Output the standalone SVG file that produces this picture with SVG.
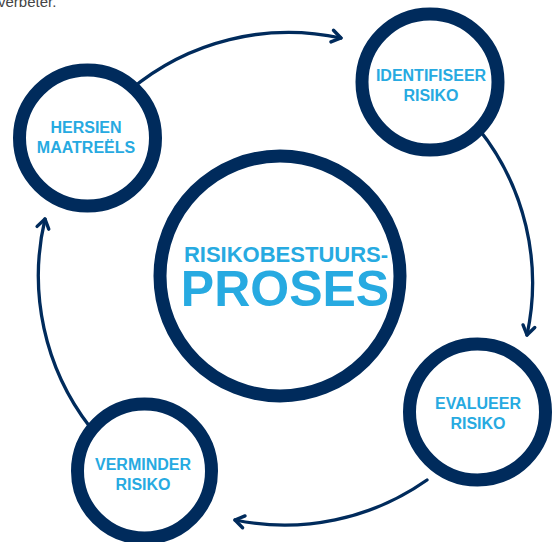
<svg xmlns="http://www.w3.org/2000/svg" width="558" height="542" viewBox="0 0 558 542">
<style>
.ring{fill:#fff;stroke:#002b5c;stroke-width:13}
.lbl{font-family:"Liberation Sans",Arial,sans-serif;font-weight:bold;font-size:16px;fill:#27aae1;text-anchor:middle}
.conn{fill:none;stroke:#002b5c;stroke-width:3.3;stroke-linecap:round}
</style>
<defs>
<marker id="arr" markerUnits="userSpaceOnUse" markerWidth="20" markerHeight="20" viewBox="-12 -10 16 20" refX="0" refY="0" orient="auto">
<path d="M -9 -6 L 0 0 L -9 6" fill="none" stroke="#002b5c" stroke-width="3.4" stroke-linecap="round" stroke-linejoin="round"/>
</marker>
</defs>
<rect width="558" height="542" fill="#fff"/>
<text x="-2" y="7" font-family="Liberation Sans,Arial,sans-serif" font-size="15" fill="#444">verbeter.</text>
<g id="connectors">
<path class="conn" d="M 130 90 A 247 247 0 0 1 341 38" marker-end="url(#arr)"/>
<path class="conn" d="M 478 128 A 247 247 0 0 1 527 335" marker-end="url(#arr)"/>
<path class="conn" d="M 427 480 A 247 247 0 0 1 235 520" marker-end="url(#arr)"/>
<path class="conn" d="M 90 427 A 247 247 0 0 1 45 219" marker-end="url(#arr)"/>
</g>
<g id="center">
<circle class="ring" cx="280" cy="276" r="120"/>
<text class="lbl" x="286" y="262" style="font-size:22px">RISIKOBESTUURS-</text>
<text class="lbl" x="285" y="306" style="font-size:50px">PROSES</text>
</g>
<g id="hersien">
<circle class="ring" cx="87.5" cy="138" r="68"/>
<text class="lbl" x="86" y="133">HERSIEN</text>
<text class="lbl" x="86" y="153">MAATREËLS</text>
</g>
<g id="identifiseer">
<circle class="ring" cx="430" cy="82" r="68"/>
<text class="lbl" x="431" y="81">IDENTIFISEER</text>
<text class="lbl" x="431" y="101">RISIKO</text>
</g>
<g id="evalueer">
<circle class="ring" cx="477.5" cy="412" r="68"/>
<text class="lbl" x="478" y="409">EVALUEER</text>
<text class="lbl" x="478" y="429">RISIKO</text>
</g>
<g id="verminder">
<circle class="ring" cx="144.5" cy="471" r="67"/>
<text class="lbl" x="143" y="470">VERMINDER</text>
<text class="lbl" x="143" y="490">RISIKO</text>
</g>
</svg>
